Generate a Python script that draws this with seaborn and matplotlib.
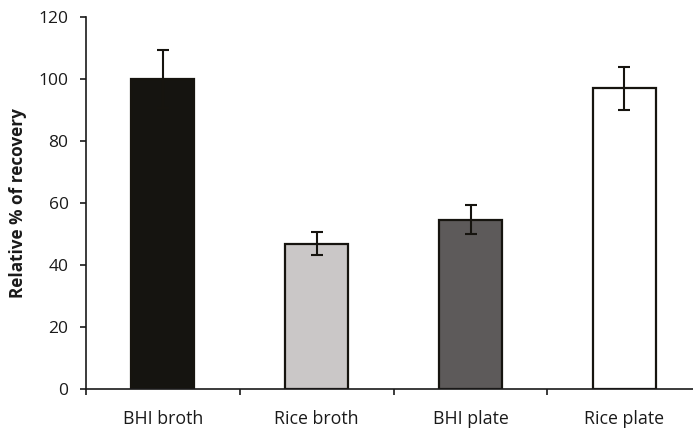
import matplotlib
matplotlib.use("Agg")
import matplotlib.pyplot as plt
import seaborn as sns
import pandas as pd
import numpy as np

# Recovery relative to BHI broth, mean and SD
conditions = ["BHI broth", "Rice broth", "BHI plate", "Rice plate"]
recovery = [100.0, 46.9, 54.7, 97.0]
sd = [9.3, 3.8, 4.7, 7.0]
bar_colors = ["#16140f", "#cbc7c6", "#5e5a59", "#ffffff"]
y_ticks = [0, 20, 40, 60, 80, 100, 120]

sns.set_theme(style="white")
plt.rcParams["font.family"] = ["Open Sans", "DejaVu Sans"]

df = pd.DataFrame({"condition": conditions, "recovery": recovery})

fig = plt.figure(figsize=(6.93, 4.28), dpi=100)
ax = fig.add_axes([0.124, 0.091, 0.888, 0.869])

sns.barplot(data=df, x="condition", y="recovery", hue="condition",
            palette=bar_colors, order=conditions, hue_order=conditions,
            width=0.41, edgecolor="#16140f", linewidth=1.6,
            errorbar=None, legend=False, ax=ax)

ax.errorbar(np.arange(len(conditions)), recovery, yerr=sd, fmt="none",
            ecolor="#16140f", elinewidth=1.5, capsize=4.5, capthick=1.5,
            zorder=5)

ax.set_xlim(-0.5, 3.5)
ax.set_ylim(0, 120)
ax.set_yticks(y_ticks)
ax.set_xticks(np.arange(-0.5, 4, 1.0), minor=False)
ax.set_xticklabels([])
ax.set_xticks(np.arange(len(conditions)), minor=True)
ax.set_xticklabels(conditions, minor=True)

ax.tick_params(axis="x", which="major", direction="out", length=4.5,
               width=1.2, color="#1a1a1a", bottom=True)
ax.tick_params(axis="x", which="minor", length=0, pad=15,
               labelsize=12.8, labelcolor="#1a1a1a")
ax.tick_params(axis="y", direction="out", length=4.5, width=1.2,
               color="#1a1a1a", left=True, labelsize=12.5,
               labelcolor="#1a1a1a", pad=8)

for side in ["top", "right"]:
    ax.spines[side].set_visible(False)
for side in ["left", "bottom"]:
    ax.spines[side].set_color("#1a1a1a")
    ax.spines[side].set_linewidth(1.2)

ax.set_xlabel("")
ax.set_ylabel("Relative % of recovery", fontsize=12.3, fontweight="bold",
              color="#1a1a1a", labelpad=8)

fig.savefig("out.png", dpi=100)
